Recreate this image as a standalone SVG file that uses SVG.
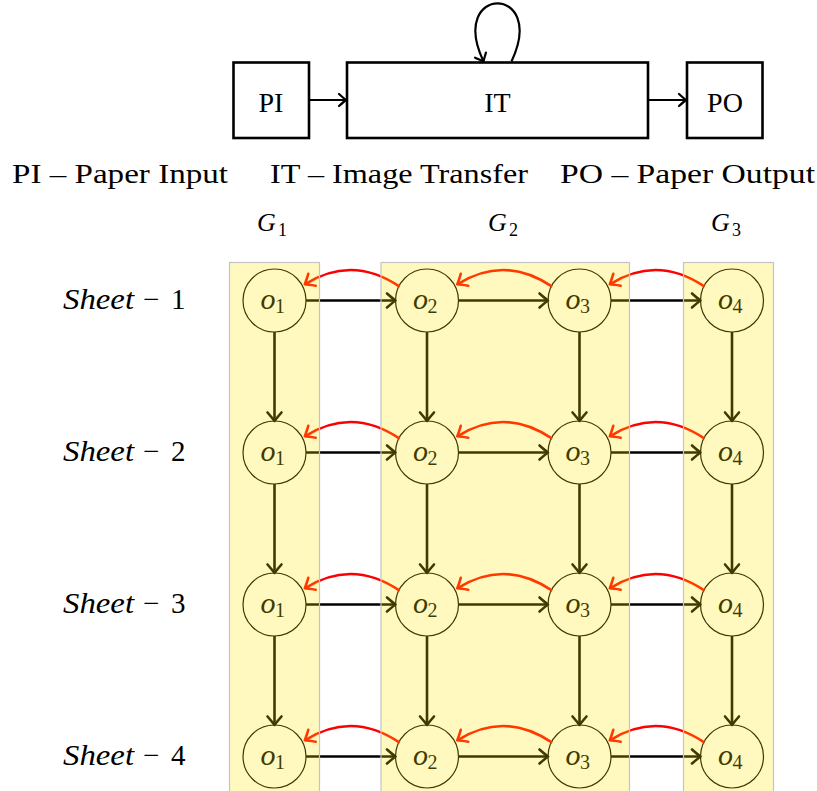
<svg xmlns="http://www.w3.org/2000/svg" width="817" height="791" viewBox="0 0 817 791">
<style>
.t{font-family:"Liberation Serif","Times New Roman",serif;fill:#000}
.it{font-style:italic}
.box{fill:#fff;stroke:#000;stroke-width:2.6}
.ar{fill:none;stroke:#000;stroke-width:2.2}
.nd{fill:#fff;stroke:#000;stroke-width:1.2}
.ed{fill:none;stroke:#000;stroke-width:2.6}
.rd{fill:none;stroke:#ff0000;stroke-width:2.6}
.ov{fill:#ffe800;fill-opacity:0.25;stroke:#c4c4c4;stroke-width:1.2}
.ol{font-family:"Liberation Serif","Times New Roman",serif;font-style:italic;font-size:30px;fill:#000}
.os{font-family:"Liberation Serif","Times New Roman",serif;font-size:20px;fill:#000}
</style>
<defs>
<marker id="ah" markerUnits="userSpaceOnUse" markerWidth="14" markerHeight="18" refX="0" refY="0" viewBox="-11 -9 13 18" orient="auto" overflow="visible">
<path d="M -8.5 -7 Q -2.5 -1.8 0 0 Q -2.5 1.8 -8.5 7" fill="none" stroke="#000" stroke-width="2.6" stroke-linecap="round" stroke-linejoin="round"/>
</marker>
<marker id="ahr" markerUnits="userSpaceOnUse" markerWidth="14" markerHeight="18" refX="0" refY="0" viewBox="-11 -9 13 18" orient="auto" overflow="visible">
<path d="M -8.5 -7 Q -2.5 -1.8 0 0 Q -2.5 1.8 -8.5 7" fill="none" stroke="#ff0000" stroke-width="2.6" stroke-linecap="round" stroke-linejoin="round"/>
</marker>
<marker id="ahs" markerUnits="userSpaceOnUse" markerWidth="14" markerHeight="18" refX="0" refY="0" viewBox="-11 -9 13 18" orient="auto" overflow="visible">
<path d="M -7 -6 Q -2 -1.5 0 0 Q -2 1.5 -7 6" fill="none" stroke="#000" stroke-width="2.2" stroke-linecap="round" stroke-linejoin="round"/>
</marker>
</defs>
<rect width="817" height="791" fill="#fff"/>

<!-- top process -->
<g id="PI"><rect class="box" x="233.5" y="62.5" width="75.5" height="75.5"/><text class="t" x="271" y="112" font-size="28" text-anchor="middle">PI</text></g>
<g id="IT"><rect class="box" x="347" y="62.5" width="301" height="75.5"/><text class="t" x="497.5" y="112" font-size="28" text-anchor="middle">IT</text></g>
<g id="PO"><rect class="box" x="687" y="62.5" width="75.5" height="75.5"/><text class="t" x="725" y="112" font-size="28" text-anchor="middle">PO</text></g>
<g id="top-connectors">
<path class="ar" d="M 309 100 L 346 100" marker-end="url(#ahs)"/>
<path class="ar" d="M 648 100 L 686 100" marker-end="url(#ahs)"/>
<path class="ar" d="M 511.5 61.5 C 548 -16 447 -16 483.5 61.5" marker-end="url(#ahs)"/>
</g>

<g id="legend">
<text class="t" x="12" y="183" font-size="28" textLength="216" lengthAdjust="spacingAndGlyphs">PI – Paper Input</text>
<text class="t" x="270" y="183" font-size="28" textLength="258" lengthAdjust="spacingAndGlyphs">IT – Image Transfer</text>
<text class="t" x="560" y="183" font-size="28" textLength="255" lengthAdjust="spacingAndGlyphs">PO – Paper Output</text>
</g>

<g id="group-labels">
<text class="t it" x="257" y="231" font-size="26">G</text><text class="t" x="278" y="236" font-size="18">1</text>
<text class="t it" x="488" y="231" font-size="26">G</text><text class="t" x="509" y="236" font-size="18">2</text>
<text class="t it" x="711" y="231" font-size="26">G</text><text class="t" x="732" y="236" font-size="18">3</text>
</g>

<g id="sheet-labels">
<text class="t" y="309" font-size="29"><tspan class="it" x="63" textLength="71" lengthAdjust="spacingAndGlyphs">Sheet</tspan><tspan x="143">−</tspan><tspan x="171">1</tspan></text>
<text class="t" y="461" font-size="29"><tspan class="it" x="63" textLength="71" lengthAdjust="spacingAndGlyphs">Sheet</tspan><tspan x="143">−</tspan><tspan x="171">2</tspan></text>
<text class="t" y="613" font-size="29"><tspan class="it" x="63" textLength="71" lengthAdjust="spacingAndGlyphs">Sheet</tspan><tspan x="143">−</tspan><tspan x="171">3</tspan></text>
<text class="t" y="765" font-size="29"><tspan class="it" x="63" textLength="71" lengthAdjust="spacingAndGlyphs">Sheet</tspan><tspan x="143">−</tspan><tspan x="171">4</tspan></text>
</g>

<!-- nodes -->
<g id="s1o1"><circle class="nd" cx="274.5" cy="300.5" r="31.5"/><text class="ol" x="260.5" y="309">o</text><text class="os" x="275" y="312.5">1</text></g>
<g id="s1o2"><circle class="nd" cx="427" cy="300.5" r="31.5"/><text class="ol" x="413" y="309">o</text><text class="os" x="427.5" y="312.5">2</text></g>
<g id="s1o3"><circle class="nd" cx="579.5" cy="300.5" r="31.5"/><text class="ol" x="565.5" y="309">o</text><text class="os" x="580" y="312.5">3</text></g>
<g id="s1o4"><circle class="nd" cx="732" cy="300.5" r="31.5"/><text class="ol" x="718" y="309">o</text><text class="os" x="732.5" y="312.5">4</text></g>

<g id="s2o1"><circle class="nd" cx="274.5" cy="452.5" r="31.5"/><text class="ol" x="260.5" y="461">o</text><text class="os" x="275" y="464.5">1</text></g>
<g id="s2o2"><circle class="nd" cx="427" cy="452.5" r="31.5"/><text class="ol" x="413" y="461">o</text><text class="os" x="427.5" y="464.5">2</text></g>
<g id="s2o3"><circle class="nd" cx="579.5" cy="452.5" r="31.5"/><text class="ol" x="565.5" y="461">o</text><text class="os" x="580" y="464.5">3</text></g>
<g id="s2o4"><circle class="nd" cx="732" cy="452.5" r="31.5"/><text class="ol" x="718" y="461">o</text><text class="os" x="732.5" y="464.5">4</text></g>

<g id="s3o1"><circle class="nd" cx="274.5" cy="604.5" r="31.5"/><text class="ol" x="260.5" y="613">o</text><text class="os" x="275" y="616.5">1</text></g>
<g id="s3o2"><circle class="nd" cx="427" cy="604.5" r="31.5"/><text class="ol" x="413" y="613">o</text><text class="os" x="427.5" y="616.5">2</text></g>
<g id="s3o3"><circle class="nd" cx="579.5" cy="604.5" r="31.5"/><text class="ol" x="565.5" y="613">o</text><text class="os" x="580" y="616.5">3</text></g>
<g id="s3o4"><circle class="nd" cx="732" cy="604.5" r="31.5"/><text class="ol" x="718" y="613">o</text><text class="os" x="732.5" y="616.5">4</text></g>

<g id="s4o1"><circle class="nd" cx="274.5" cy="756.5" r="31.5"/><text class="ol" x="260.5" y="765">o</text><text class="os" x="275" y="768.5">1</text></g>
<g id="s4o2"><circle class="nd" cx="427" cy="756.5" r="31.5"/><text class="ol" x="413" y="765">o</text><text class="os" x="427.5" y="768.5">2</text></g>
<g id="s4o3"><circle class="nd" cx="579.5" cy="756.5" r="31.5"/><text class="ol" x="565.5" y="765">o</text><text class="os" x="580" y="768.5">3</text></g>
<g id="s4o4"><circle class="nd" cx="732" cy="756.5" r="31.5"/><text class="ol" x="718" y="765">o</text><text class="os" x="732.5" y="768.5">4</text></g>

<!-- connectors -->
<g id="connectors">
<path class="ed" d="M 306 300.5 H 395.5" marker-end="url(#ah)"/>
<path class="ed" d="M 458.5 300.5 H 548" marker-end="url(#ah)"/>
<path class="ed" d="M 611 300.5 H 700.5" marker-end="url(#ah)"/>
<path class="ed" d="M 306 452.5 H 395.5" marker-end="url(#ah)"/>
<path class="ed" d="M 458.5 452.5 H 548" marker-end="url(#ah)"/>
<path class="ed" d="M 611 452.5 H 700.5" marker-end="url(#ah)"/>
<path class="ed" d="M 306 604.5 H 395.5" marker-end="url(#ah)"/>
<path class="ed" d="M 458.5 604.5 H 548" marker-end="url(#ah)"/>
<path class="ed" d="M 611 604.5 H 700.5" marker-end="url(#ah)"/>
<path class="ed" d="M 306 756.5 H 395.5" marker-end="url(#ah)"/>
<path class="ed" d="M 458.5 756.5 H 548" marker-end="url(#ah)"/>
<path class="ed" d="M 611 756.5 H 700.5" marker-end="url(#ah)"/>
<path class="ed" d="M 274.5 332 V 421" marker-end="url(#ah)"/>
<path class="ed" d="M 274.5 484 V 573" marker-end="url(#ah)"/>
<path class="ed" d="M 274.5 636 V 725" marker-end="url(#ah)"/>
<path class="ed" d="M 427 332 V 421" marker-end="url(#ah)"/>
<path class="ed" d="M 427 484 V 573" marker-end="url(#ah)"/>
<path class="ed" d="M 427 636 V 725" marker-end="url(#ah)"/>
<path class="ed" d="M 579.5 332 V 421" marker-end="url(#ah)"/>
<path class="ed" d="M 579.5 484 V 573" marker-end="url(#ah)"/>
<path class="ed" d="M 579.5 636 V 725" marker-end="url(#ah)"/>
<path class="ed" d="M 732 332 V 421" marker-end="url(#ah)"/>
<path class="ed" d="M 732 484 V 573" marker-end="url(#ah)"/>
<path class="ed" d="M 732 636 V 725" marker-end="url(#ah)"/>
<path class="rd" d="M 399.7 286.7 Q 352.3 254.5 304.8 284.3" marker-end="url(#ahr)"/>
<path class="rd" d="M 552.2 286.7 Q 504.8 254.5 457.3 284.3" marker-end="url(#ahr)"/>
<path class="rd" d="M 704.7 286.7 Q 657.3 254.5 609.8 284.3" marker-end="url(#ahr)"/>
<path class="rd" d="M 399.7 438.7 Q 352.3 406.5 304.8 436.3" marker-end="url(#ahr)"/>
<path class="rd" d="M 552.2 438.7 Q 504.8 406.5 457.3 436.3" marker-end="url(#ahr)"/>
<path class="rd" d="M 704.7 438.7 Q 657.3 406.5 609.8 436.3" marker-end="url(#ahr)"/>
<path class="rd" d="M 399.7 590.7 Q 352.3 558.5 304.8 588.3" marker-end="url(#ahr)"/>
<path class="rd" d="M 552.2 590.7 Q 504.8 558.5 457.3 588.3" marker-end="url(#ahr)"/>
<path class="rd" d="M 704.7 590.7 Q 657.3 558.5 609.8 588.3" marker-end="url(#ahr)"/>
<path class="rd" d="M 399.7 742.7 Q 352.3 710.5 304.8 740.3" marker-end="url(#ahr)"/>
<path class="rd" d="M 552.2 742.7 Q 504.8 710.5 457.3 740.3" marker-end="url(#ahr)"/>
<path class="rd" d="M 704.7 742.7 Q 657.3 710.5 609.8 740.3" marker-end="url(#ahr)"/>
</g>

<!-- group highlight overlays -->
<g id="groups">
<rect id="G1" class="ov" x="229.5" y="262.5" width="90" height="540"/>
<rect id="G2" class="ov" x="381" y="262.5" width="248.5" height="540"/>
<rect id="G3" class="ov" x="683.5" y="262.5" width="90" height="540"/>
</g>
</svg>
